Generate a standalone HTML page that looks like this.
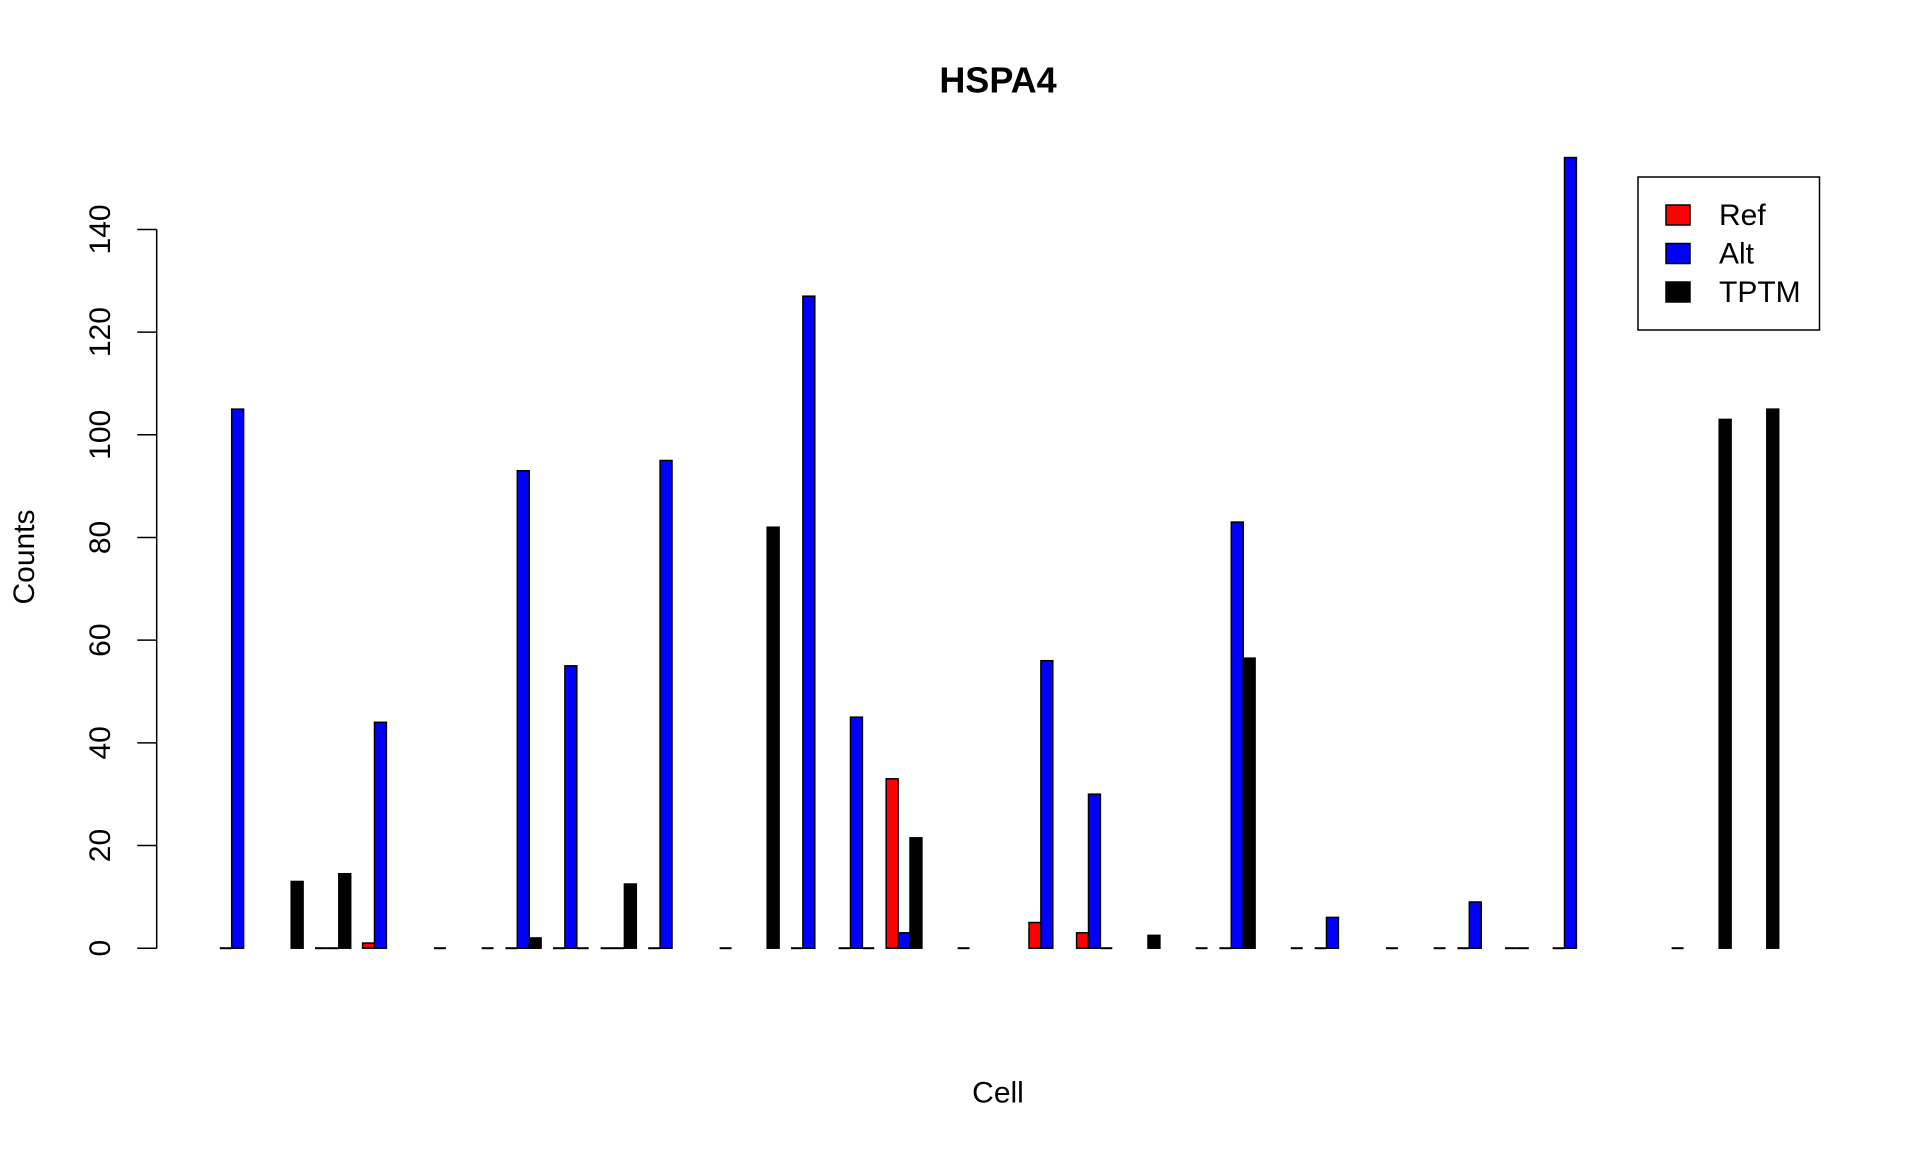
<!DOCTYPE html>
<html><head><meta charset="utf-8"><title>HSPA4</title>
<style>
html,body{margin:0;padding:0;background:#fff;}
svg{display:block;font-family:"Liberation Sans",Arial,sans-serif;}
</style></head>
<body>
<svg id="chart" width="1920" height="1152" viewBox="0 0 1920 1152" xmlns="http://www.w3.org/2000/svg">
<rect x="0" y="0" width="1920" height="1152" fill="#fff"/>
<text x="998" y="92.5" text-anchor="middle" font-size="36" font-weight="bold">HSPA4</text>
<text x="998" y="1102.5" text-anchor="middle" font-size="30">Cell</text>
<text transform="translate(34,557) rotate(-90)" text-anchor="middle" font-size="30">Counts</text>
<g id="yaxis"></g>
<g id="bars"></g>
<g>
<rect x="1638" y="177" width="181.5" height="153" fill="#fff" stroke="#000" stroke-width="1.5"/>
<g>
<rect x="1666" y="205" width="24" height="20" fill="#ff0000" stroke="#000" stroke-width="1.5"/>
<text x="1719" y="225" font-size="30">Ref</text></g>
<g>
<rect x="1666" y="243.5" width="24" height="20" fill="#0000ff" stroke="#000" stroke-width="1.5"/>
<text x="1719" y="263.5" font-size="30">Alt</text></g>
<g>
<rect x="1666" y="282" width="24" height="20" fill="#000" stroke="#000" stroke-width="1.5"/>
<text x="1719" y="302" font-size="30">TPTM</text></g>
</g>
</svg>
<script>
var yTicks = [0, 20, 40, 60, 80, 100, 120, 140];
var refVals  = [0,null,0,1,null,null,0,0,0,0,null,null,0,0,33,null,null,5,3,null,null,0,null,0,null,null,0,0,0,null,null,null,null];
var altVals  = [105,null,0,44,null,null,93,55,0,95,null,null,127,45,3,null,null,56,30,null,null,83,null,6,null,null,9,0,154,null,null,null,null];
var tptmVals = [null,13,14.5,null,0,0,2,0,12.5,null,0,82,null,0,21.5,0,null,null,0,2.5,0,56.5,0,null,0,0,null,null,null,null,0,103,105];
var seriesColors = ["#ff0000", "#0000ff", "#000000"];

var NS = "http://www.w3.org/2000/svg";
var X0 = 219.8, STRIDE = 47.6, BW = 11.9, Y0 = 948.2, PPU = 5.134;
function yScale(v){ return Y0 - v * PPU; }
function xScale(group, s){ return X0 + group * STRIDE + s * BW; }

var ya = document.getElementById("yaxis");
var axLine = document.createElementNS(NS, "line");
axLine.setAttribute("x1", 156.7); axLine.setAttribute("x2", 156.7);
axLine.setAttribute("y1", yScale(yTicks[0])); axLine.setAttribute("y2", yScale(yTicks[yTicks.length-1]));
axLine.setAttribute("stroke", "#000"); axLine.setAttribute("stroke-width", "1.5");


ya.appendChild(axLine);
yTicks.forEach(function(t){
  var y = yScale(t);
  var tk = document.createElementNS(NS, "line");
  tk.setAttribute("x1", 137.3); tk.setAttribute("x2", 156.7);
  tk.setAttribute("y1", y); tk.setAttribute("y2", y);
  tk.setAttribute("stroke", "#000"); tk.setAttribute("stroke-width", "1.5");
  
  
  ya.appendChild(tk);
  var lb = document.createElementNS(NS, "text");
  lb.setAttribute("transform", "translate(110," + y + ") rotate(-90)");
  lb.setAttribute("text-anchor", "middle");
  lb.setAttribute("font-size", "30");
  lb.textContent = String(t);
  
  
  ya.appendChild(lb);
});

var bg = document.getElementById("bars");
var series = [refVals, altVals, tptmVals];
var sNames = ["ref", "alt", "tptm"];
series.forEach(function(vals, s){
  vals.forEach(function(v, g){
    if (v === null) return;
    var x = xScale(g, s);
    if (v === 0) {
      var ln = document.createElementNS(NS, "line");
      ln.setAttribute("x1", x); ln.setAttribute("x2", x + BW);
      ln.setAttribute("y1", Y0); ln.setAttribute("y2", Y0);
      ln.setAttribute("stroke", "#000"); ln.setAttribute("stroke-width", "2");
      
      
      bg.appendChild(ln);
      return;
    }
    var r = document.createElementNS(NS, "rect");
    var top = yScale(v);
    r.setAttribute("x", x);
    r.setAttribute("y", top);
    r.setAttribute("width", BW);
    r.setAttribute("height", Math.max(0, Y0 - top));
    r.setAttribute("fill", seriesColors[s]);
    r.setAttribute("stroke", "#000");
    r.setAttribute("stroke-width", "1.5");
    
    
    bg.appendChild(r);
  });
});
</script>
</body></html>
